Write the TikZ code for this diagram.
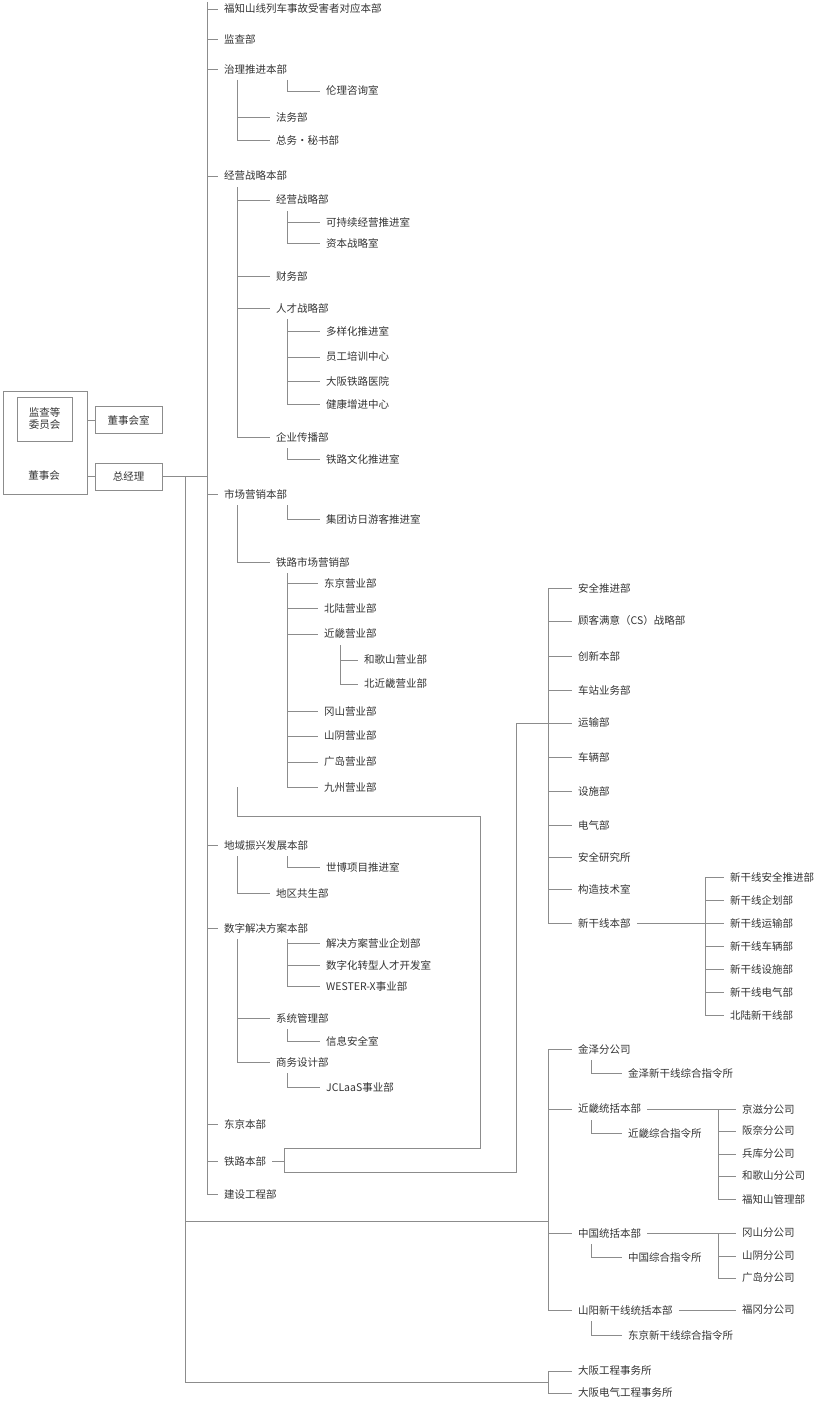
\documentclass[tikz,border=0pt]{standalone}
\usepackage{fontspec}
\setmainfont{Noto Sans CJK SC}
\definecolor{linegray}{HTML}{8C8C8C}
\definecolor{textgray}{HTML}{333333}
\begin{document}
\begin{tikzpicture}[
            x=1pt, y=-1pt,
            lbl/.style={anchor=west, inner xsep=6pt, inner ysep=0pt, text=textgray, font=\fontsize{10.5}{12}\selectfont},
            box/.style={draw=linegray, text=textgray, font=\fontsize{10.5}{12}\selectfont, align=center},
            conn/.style={draw=linegray, line width=0.8pt}
            ]
            \useasboundingbox (0,0) rectangle (825,1402);

            % Board
            \node[box, minimum width=84pt, minimum height=103pt] (board) at (45,442.5) {};
            \node[box, minimum width=55pt, minimum height=44pt] (audit) at (44.5,419) {监查等\\委员会};
            \node[text=textgray, font=\fontsize{10.5}{12}\selectfont] (boardtxt) at (44,476) {董事会};
            \node[box, minimum width=67pt, minimum height=27pt] (office) at (128.5,420) {董事会室};
            \node[box, minimum width=67pt, minimum height=27pt] (pres) at (128.5,476.5) {总经理};
            \draw[conn] (board.east |- office.west) -- (office.west);
            \draw[conn] (board.east |- pres.west) -- (pres.west);

            % Level 1
            \node[lbl] (fk) at (218,9) {福知山线列车事故受害者对应本部};
            \node[lbl] (jc) at (218,39) {监查部};
            \node[lbl] (zl) at (218,69) {治理推进本部};
            \node[lbl] (jy) at (218,176) {经营战略本部};
            \node[lbl] (sc) at (218,494) {市场营销本部};
            \node[lbl] (dy) at (218,845) {地域振兴发展本部};
            \node[lbl] (sz) at (218,928) {数字解决方案本部};
            \node[lbl] (dj) at (218,1124) {东京本部};
            \node[lbl] (tl) at (218,1161) {铁路本部};
            \node[lbl] (js) at (218,1194) {建设工程部};
            \draw[conn] (207,2) |- (js.west);
            \foreach \n in {fk,jc,zl,jy,sc,dy,sz,dj,tl}
                \draw[conn] (207,0 |- \n.west) -- (\n.west);
            \draw[conn] (pres.east) -- (207,476.5);
            \draw[conn] (185,476.5) -- (185,1382);

            % Governance
            \node[lbl] (ll) at (320,91) {伦理咨询室};
            \node[lbl] (fw) at (270,117) {法务部};
            \node[lbl] (zw) at (270,140) {总务·秘书部};
            \draw[conn] (287,80) |- (ll.west);
            \draw[conn] (237,80) |- (fw.west);
            \draw[conn] (237,80) |- (zw.west);

            % Strategy
            \node[lbl] (jyb) at (270,200) {经营战略部};
            \node[lbl] (cw) at (270,276) {财务部};
            \node[lbl] (rc) at (270,308) {人才战略部};
            \node[lbl] (qy) at (270,437) {企业传播部};
            \foreach \n in {jyb,cw,rc,qy}
                \draw[conn] (237,187) |- (\n.west);
            \node[lbl] (kcx) at (320,222) {可持续经营推进室};
            \node[lbl] (zb) at (320,243) {资本战略室};
            \foreach \n in {kcx,zb}
                \draw[conn] (287,211) |- (\n.west);
            \node[lbl] (dyh) at (320,331) {多样化推进室};
            \node[lbl] (yg) at (320,357) {员工培训中心};
            \node[lbl] (yy) at (320,381) {大阪铁路医院};
            \node[lbl] (jk) at (320,404) {健康增进中心};
            \foreach \n in {dyh,yg,yy,jk}
                \draw[conn] (287,319) |- (\n.west);
            \node[lbl] (whs) at (320,459) {铁路文化推进室};
            \draw[conn] (287,448) |- (whs.west);

            % Marketing
            \node[lbl] (ft) at (320,519) {集团访日游客推进室};
            \node[lbl] (tlsc) at (270,562) {铁路市场营销部};
            \draw[conn] (287,505) |- (ft.west);
            \draw[conn] (237,505) |- (tlsc.west);
            \node[lbl] (dj1) at (318,583) {东京营业部};
            \node[lbl] (bl1) at (318,608) {北陆营业部};
            \node[lbl] (jj1) at (318,634) {近畿营业部};
            \node[lbl] (gs1) at (318,711) {冈山营业部};
            \node[lbl] (sy1) at (318,736) {山阴营业部};
            \node[lbl] (gd1) at (318,762) {广岛营业部};
            \node[lbl] (jz1) at (318,787) {九州营业部};
            \foreach \n in {dj1,bl1,jj1,gs1,sy1,gd1,jz1}
                \draw[conn] (287,573) |- (\n.west);
            \node[lbl] (hgs1) at (358,660) {和歌山营业部};
            \node[lbl] (bjj1) at (358,684) {北近畿营业部};
            \foreach \n in {hgs1,bjj1}
                \draw[conn] (340,645) |- (\n.west);

            % Regional
            \node[lbl] (sb) at (320,867) {世博项目推进室};
            \node[lbl] (gs) at (270,893) {地区共生部};
            \draw[conn] (287,856) |- (sb.west);
            \draw[conn] (237,856) |- (gs.west);

            % Digital
            \node[lbl] (jjfa) at (320,943) {解决方案营业企划部};
            \node[lbl] (szh) at (320,965) {数字化转型人才开发室};
            \node[lbl] (wx) at (320,986) {WESTER-X事业部};
            \foreach \n in {jjfa,szh,wx}
                \draw[conn] (287,939) |- (\n.west);
            \node[lbl] (xt) at (270,1018) {系统管理部};
            \node[lbl] (sw) at (270,1062) {商务设计部};
            \foreach \n in {xt,sw}
                \draw[conn] (237,939) |- (\n.west);
            \node[lbl] (xx) at (320,1041) {信息安全室};
            \draw[conn] (287,1029) |- (xx.west);
            \node[lbl] (jcl) at (320,1087) {JCLaaS事业部};
            \draw[conn] (287,1073) |- (jcl.west);

            % Railway HQ links
            \coordinate (tlj) at (284,1161);
            \draw[conn] (tl.east) -- (tlj);
            \draw[conn] (237,787) -- (237,816) -| (480,1148) -| (284,1172) -| (516,723);
            \draw[conn] (185,1221) -- (548,1221);

            % Railway HQ departments
            \node[lbl] (aq) at (572,588) {安全推进部};
            \node[lbl] (cs) at (572,621) {顾客满意（CS）战略部};
            \node[lbl] (cx) at (572,656) {创新本部};
            \node[lbl] (cz) at (572,690) {车站业务部};
            \node[lbl] (ys) at (572,723) {运输部};
            \node[lbl] (cl) at (572,757) {车辆部};
            \node[lbl] (ss) at (572,791) {设施部};
            \node[lbl] (dq) at (572,825) {电气部};
            \node[lbl] (yj) at (572,857) {安全研究所};
            \node[lbl] (gz) at (572,889) {构造技术室};
            \node[lbl] (xg) at (572,923) {新干线本部};
            \draw[conn] (548,588) |- (xg.west);
            \foreach \n in {aq,cs,cx,cz,ys,cl,ss,dq,yj,gz}
                \draw[conn] (548,0 |- \n.west) -- (\n.west);
            \draw[conn] (516,723) -- (548,723);

            % Shinkansen
            \node[lbl] (xg1) at (724,877) {新干线安全推进部};
            \node[lbl] (xg2) at (724,900) {新干线企划部};
            \node[lbl] (xg3) at (724,923) {新干线运输部};
            \node[lbl] (xg4) at (724,946) {新干线车辆部};
            \node[lbl] (xg5) at (724,969) {新干线设施部};
            \node[lbl] (xg6) at (724,992) {新干线电气部};
            \node[lbl] (xg7) at (724,1015) {北陆新干线部};
            \draw[conn] (xg.east) -- (xg3.west);
            \foreach \n in {xg1,xg2,xg4,xg5,xg6,xg7}
                \draw[conn] (705,923) |- (\n.west);

            % Branches
            \node[lbl] (jzf) at (572,1049) {金泽分公司};
            \node[lbl] (jjt) at (572,1109) {近畿统括本部};
            \node[lbl] (zgt) at (572,1233) {中国统括本部};
            \node[lbl] (syt) at (572,1310) {山阳新干线统括本部};
            \draw[conn] (548,1049) |- (syt.west);
            \foreach \n in {jzf,jjt,zgt}
                \draw[conn] (548,0 |- \n.west) -- (\n.west);
            \node[lbl] (jzz) at (622,1073) {金泽新干线综合指令所};
            \node[lbl] (jjz) at (622,1133) {近畿综合指令所};
            \node[lbl] (zgz) at (622,1257) {中国综合指令所};
            \node[lbl] (djz) at (622,1335) {东京新干线综合指令所};
            \draw[conn] (591,1060) |- (jzz.west);
            \draw[conn] (591,1120) |- (jjz.west);
            \draw[conn] (591,1244) |- (zgz.west);
            \draw[conn] (591,1321) |- (djz.west);
            \node[lbl] (jzg) at (736,1109) {京滋分公司};
            \node[lbl] (bn) at (736,1131) {阪奈分公司};
            \node[lbl] (bk) at (736,1154) {兵库分公司};
            \node[lbl] (hgs) at (736,1176) {和歌山分公司};
            \node[lbl] (fzs) at (736,1199) {福知山管理部};
            \draw[conn] (jjt.east) -- (jzg.west);
            \foreach \n in {bn,bk,hgs,fzs}
                \draw[conn] (718,1109) |- (\n.west);
            \node[lbl] (gsf) at (736,1233) {冈山分公司};
            \node[lbl] (syf) at (736,1256) {山阴分公司};
            \node[lbl] (gdf) at (736,1278) {广岛分公司};
            \draw[conn] (zgt.east) -- (gsf.west);
            \foreach \n in {syf,gdf}
                \draw[conn] (718,1233) |- (\n.west);
            \node[lbl] (fgf) at (736,1310) {福冈分公司};
            \draw[conn] (syt.east) -- (fgf.west);

            % Construction offices
            \node[lbl] (dgc) at (572,1371) {大阪工程事务所};
            \node[lbl] (ddq) at (572,1393) {大阪电气工程事务所};
            \draw[conn] (185,1382) -- (548,1382);
            \draw[conn] (548,0 |- dgc.west) -- (dgc.west);
            \draw[conn] (548,1371) |- (ddq.west);
        \end{tikzpicture}
\end{document}
